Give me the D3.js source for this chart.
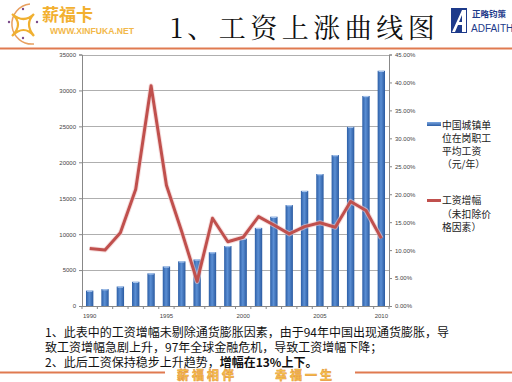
<!DOCTYPE html>
<html><head><meta charset="utf-8">
<script src="https://cdn.jsdelivr.net/npm/d3@7/dist/d3.min.js"></script>
<style>body{margin:0;background:#fff}svg{display:block}</style>
</head><body>
<svg id="c" width="512" height="382"></svg>
<script>
const years = ["1990","1991","1992","1993","1994","1995","1996","1997","1998","1999","2000","2001","2002","2003","2004","2005","2006","2007","2008","2009"];
const wages = [2140,2340,2711,3371,4538,5500,6210,6470,7479,8346,9371,10870,12422,14040,16024,18364,21001,24932,29229,32736];
const growth = [10.3,10.0,13.1,20.9,39.4,21.6,13.3,4.4,15.7,11.5,12.3,16.0,14.5,12.9,14.2,14.9,14.1,18.7,17.1,12.1];
const xTickIndex = [0,5,10,15,19];
const xTickLabels = ["1990","1995","2000","2005","2010"];
const leftTicks = [0,5000,10000,15000,20000,25000,30000,35000];
const rightTicks = [0,5,10,15,20,25,30,35,40,45];
const legendBar = ["中国城镇单","位在岗职工","平均工资","（元/年）"];
const legendLine = ["工资增幅","（未扣除价","格因素）"];

const svg = d3.select("#c");
const L=82, R=389, T=54.5, B=306;
const x = d3.scaleBand().domain(years).range([L,R]).paddingInner(0.52).paddingOuter(0.26);
const yL = d3.scaleLinear().domain([0,35000]).range([B,T]);
const yR = d3.scaleLinear().domain([0,45]).range([B,T]);

const defs = svg.append("defs");
const g1 = defs.append("linearGradient").attr("id","bg").attr("x1","0").attr("x2","1").attr("y1","0").attr("y2","0");
g1.append("stop").attr("offset","0").attr("stop-color","#2c5ea6");
g1.append("stop").attr("offset","0.45").attr("stop-color","#5b8fd4");
g1.append("stop").attr("offset","1").attr("stop-color","#2a5aa0");
const lg = defs.append("linearGradient").attr("id","lg").attr("x1","0").attr("x2","0").attr("y1","0").attr("y2","1");
lg.append("stop").attr("offset","0").attr("stop-color","#7aa6e0");
lg.append("stop").attr("offset","1").attr("stop-color","#2c5ea6");

// Header
const hdr = svg.append("g");
hdr.append("path").attr("d","M30,4 A20,20 0 1 0 34,44").attr("fill","none").attr("stroke","#e8a060").attr("stroke-width",1.5);
hdr.append("path").attr("d","M12,14 Q24,24 34,14 Q24,24 34,36 Q24,24 12,36 Q24,24 12,14Z").attr("fill","none").attr("stroke","#f0b030").attr("stroke-width",2.2);
[[9,22],[37,22],[23,9],[23,38]].forEach(p=>hdr.append("circle").attr("cx",p[0]).attr("cy",p[1]).attr("r",1.2).attr("fill","#7a4a8a"));
hdr.append("text").attr("x",42).attr("y",21).attr("font-family","Noto Sans CJK SC").attr("font-weight","bold").attr("font-size",17).attr("fill","#f2b030").text("薪福卡");
hdr.append("text").attr("x",50).attr("y",34).attr("font-family","Arial, Liberation Sans").attr("font-weight","bold").attr("font-size",8.6).attr("fill","#f2b84a").text("WWW.XINFUKA.NET");
hdr.append("text").attr("x",170).attr("y",38).attr("font-family","Noto Serif CJK SC, Noto Sans CJK SC").attr("font-size",27).attr("fill","#111").attr("letter-spacing",4.5).text("1、工资上涨曲线图");
hdr.append("path").attr("d","M451,8 L467,8 L467,33 L451,33Z").attr("fill","#1d3a8a");
hdr.append("path").attr("d","M452,32 L462,10 L466,10 L466,32 L462,32 L462,25 L458,25 L455,32Z M459,22 L462,22 L462,15Z").attr("fill","#fff");
hdr.append("text").attr("x",472).attr("y",17).attr("font-family","Noto Sans CJK SC").attr("font-weight","bold").attr("font-size",8.5).attr("fill","#1d3a8a").text("正略钧策");
hdr.append("text").attr("x",471).attr("y",32).attr("font-family","Arial, Liberation Sans").attr("font-size",10).attr("fill","#1d3a8a").text("ADFAITH");
svg.append("line").attr("x1",0).attr("x2",512).attr("y1",48.5).attr("y2",48.5).attr("stroke","#e07a50").attr("stroke-width",2);

// Gridlines
svg.append("g").selectAll("line").data(leftTicks.slice(1)).join("line")
  .attr("x1",L).attr("x2",R).attr("y1",d=>Math.round(yL(d))+0.5).attr("y2",d=>Math.round(yL(d))+0.5)
  .attr("stroke","#9a9a9a").attr("stroke-width",0.8);

// Axes
const axL = svg.append("g").attr("transform",`translate(${L},0)`).call(d3.axisLeft(yL).tickValues(leftTicks).tickSize(3).tickFormat(d3.format("d")));
const axR = svg.append("g").attr("transform",`translate(${R},0)`).call(d3.axisRight(yR).tickValues(rightTicks).tickSize(3).tickFormat(d=>d.toFixed(2)+"%"));
[axL,axR].forEach(a=>{a.select(".domain").attr("stroke","#888");a.selectAll(".tick line").attr("stroke","#888");
  a.selectAll("text").attr("font-family","Arial, Liberation Sans").attr("font-size",6).attr("fill","#444");});
svg.append("line").attr("x1",L).attr("x2",R).attr("y1",B+0.5).attr("y2",B+0.5).attr("stroke","#888");
svg.append("g").selectAll("line").data(d3.range(years.length+1)).join("line")
  .attr("x1",i=>L+i*x.step()).attr("x2",i=>L+i*x.step()).attr("y1",B).attr("y2",B+3).attr("stroke","#888");
svg.append("g").selectAll("text").data(xTickIndex).join("text")
  .attr("x",(d)=>x(years[d])+x.bandwidth()/2).attr("y",B+12).attr("text-anchor","middle")
  .attr("font-family","Arial, Liberation Sans").attr("font-size",6).attr("fill","#444").text((d,i)=>xTickLabels[i]);

// Bars
svg.append("g").selectAll("rect").data(wages).join("rect")
  .attr("x",(d,i)=>x(years[i])).attr("width",x.bandwidth())
  .attr("y",d=>yL(d)).attr("height",d=>B-yL(d)).attr("fill","url(#bg)");
svg.append("g").selectAll("rect").data(wages).join("rect")
  .attr("x",(d,i)=>x(years[i])+1).attr("width",x.bandwidth()-2)
  .attr("y",d=>yL(d)).attr("height",1.2).attr("fill","#a9c6ee");

// Line
const line = d3.line().x((d,i)=>x(years[i])+x.bandwidth()/2).y(d=>yR(d));
svg.append("path").datum(growth).attr("d",line).attr("fill","none").attr("stroke","#f0c8c8").attr("stroke-width",5).attr("stroke-linejoin","round").attr("opacity",0.6);
svg.append("path").datum(growth).attr("d",line).attr("fill","none").attr("stroke","#c0504d").attr("stroke-width",3).attr("stroke-linejoin","round");

// Legend
svg.append("rect").attr("x",427).attr("y",122).attr("width",14).attr("height",4).attr("fill","url(#lg)");
svg.append("g").selectAll("text").data(legendBar).join("text").attr("x",442).attr("y",(d,i)=>128.5+i*13.3)
  .attr("font-family","Noto Sans CJK SC").attr("font-size",9.8).attr("fill","#222").text(d=>d);
svg.append("line").attr("x1",427).attr("x2",441).attr("y1",200.5).attr("y2",200.5).attr("stroke","#c0504d").attr("stroke-width",3);
svg.append("g").selectAll("text").data(legendLine).join("text").attr("x",442).attr("y",(d,i)=>204+i*13.5)
  .attr("font-family","Noto Sans CJK SC").attr("font-size",9.8).attr("fill","#222").text(d=>d);

// Notes
const notes = svg.append("g").attr("font-family","Noto Sans CJK SC").attr("font-size",12).attr("fill","#111");
notes.append("text").attr("x",45).attr("y",337).text("1、此表中的工资增幅未剔除通货膨胀因素，由于94年中国出现通货膨胀，导");
notes.append("text").attr("x",45).attr("y",352).text("致工资增幅急剧上升，97年全球金融危机，导致工资增幅下降；");
const t3 = notes.append("text").attr("x",45).attr("y",366.5);
t3.append("tspan").text("2、此后工资保持稳步上升趋势，");
t3.append("tspan").attr("font-weight","bold").text("增幅在13%上下。");

// Footer
svg.append("line").attr("x1",0).attr("x2",165).attr("y1",372.5).attr("y2",372.5).attr("stroke","#e07a50").attr("stroke-width",2);
svg.append("line").attr("x1",355).attr("x2",512).attr("y1",372.5).attr("y2",372.5).attr("stroke","#e07a50").attr("stroke-width",2);
const ft = svg.append("g").attr("font-family","Noto Sans CJK SC").attr("font-weight","bold").attr("font-size",12)
  .attr("fill","#f6c84a").attr("stroke","#e89a40").attr("stroke-width",0.6);
ft.append("text").attr("x",177).attr("y",379.5).attr("letter-spacing",3).text("薪福相伴");
ft.append("text").attr("x",275).attr("y",379.5).attr("letter-spacing",3).text("幸福一生");
</script>
</body></html>
